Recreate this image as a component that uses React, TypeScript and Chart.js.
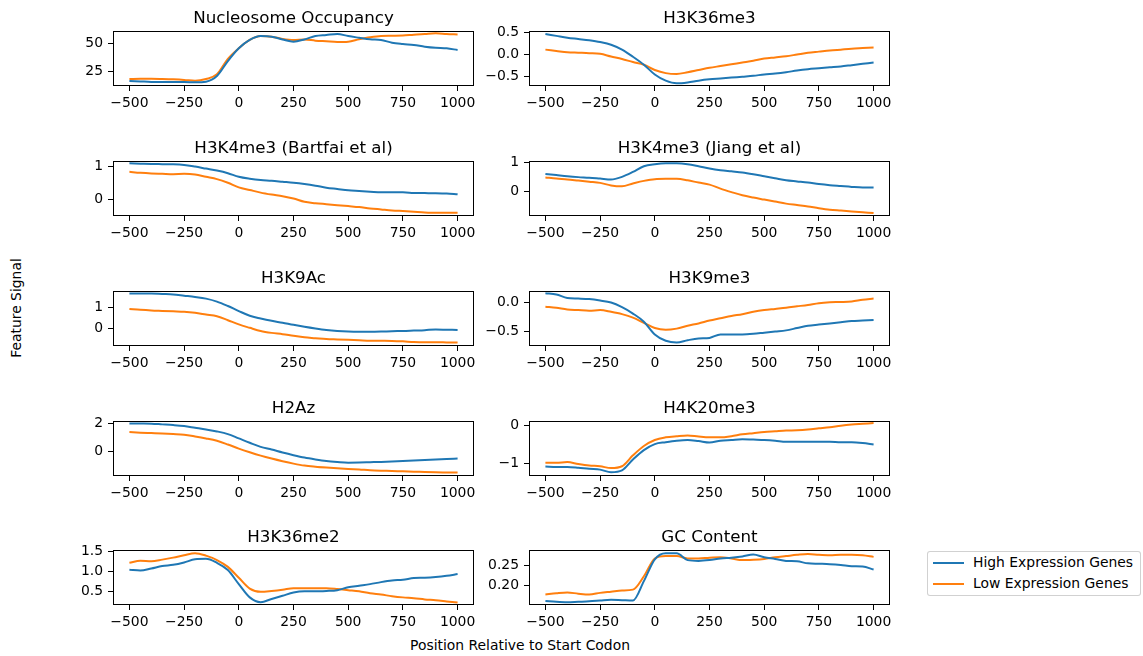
import React, { useEffect, useRef } from 'react';
import { Chart, registerables } from 'chart.js';

Chart.register(...registerables);

// ---------- data ----------
const POSITIONS = [-500, -450, -400, -350, -300, -250, -200, -150, -100, -50, 0, 50, 100, 150, 200, 250, 300, 350, 400, 450, 500, 550, 600, 650, 700, 750, 800, 850, 900, 950, 1000];
const X_TICKS = [-500, -250, 0, 250, 500, 750, 1000];
const SERIES_NAMES = ['High Expression Genes', 'Low Expression Genes'];

const NUC_HIGH = [16, 15.6, 15.2, 15, 15, 15, 14.8, 15.4, 20.5, 34, 45.5, 53, 56.5, 56, 53.5, 51.5, 53.5, 56.5, 57.5, 58.5, 56.5, 55, 53.6, 53, 50.6, 49.4, 48.5, 47, 46, 45.5, 44];
const NUC_LOW = [17.8, 18, 18, 17.8, 17.5, 17, 16.2, 17.8, 22, 36, 45.5, 53, 56.5, 56, 54, 53, 53.5, 52.4, 51.8, 51.2, 51.5, 53.6, 55.4, 56.6, 56.8, 57, 57.8, 58.4, 59, 58.4, 58];

const K36ME3_HIGH = [0.46, 0.42, 0.38, 0.35, 0.32, 0.28, 0.22, 0.11, -0.05, -0.23, -0.45, -0.59, -0.65, -0.63, -0.59, -0.56, -0.54, -0.52, -0.5, -0.48, -0.45, -0.43, -0.4, -0.36, -0.33, -0.31, -0.29, -0.27, -0.24, -0.21, -0.18];
const K36ME3_LOW = [0.11, 0.08, 0.05, 0.04, 0.03, 0.015, -0.045, -0.1, -0.17, -0.23, -0.35, -0.42, -0.44, -0.4, -0.35, -0.3, -0.26, -0.22, -0.18, -0.14, -0.09, -0.065, -0.04, 0, 0.04, 0.065, 0.09, 0.11, 0.13, 0.145, 0.16];

const K4ME3B_HIGH = [1.1, 1.09, 1.08, 1.075, 1.07, 1.05, 1.0, 0.94, 0.88, 0.8, 0.69, 0.63, 0.59, 0.57, 0.54, 0.51, 0.47, 0.42, 0.36, 0.32, 0.28, 0.26, 0.24, 0.22, 0.22, 0.22, 0.2, 0.195, 0.19, 0.18, 0.16];
const K4ME3B_LOW = [0.84, 0.81, 0.79, 0.78, 0.77, 0.78, 0.76, 0.69, 0.62, 0.51, 0.37, 0.29, 0.21, 0.15, 0.1, 0.03, -0.07, -0.11, -0.14, -0.17, -0.2, -0.23, -0.27, -0.3, -0.33, -0.35, -0.37, -0.39, -0.4, -0.4, -0.4];

const K4ME3J_HIGH = [0.6, 0.56, 0.52, 0.49, 0.47, 0.44, 0.41, 0.5, 0.67, 0.87, 0.94, 0.97, 0.97, 0.94, 0.87, 0.79, 0.73, 0.69, 0.65, 0.59, 0.52, 0.45, 0.38, 0.34, 0.3, 0.25, 0.21, 0.18, 0.15, 0.13, 0.13];
const K4ME3J_LOW = [0.48, 0.44, 0.41, 0.37, 0.33, 0.29, 0.2, 0.17, 0.27, 0.36, 0.42, 0.43, 0.43, 0.38, 0.3, 0.23, 0.09, -0.03, -0.14, -0.22, -0.29, -0.36, -0.43, -0.48, -0.53, -0.59, -0.64, -0.67, -0.7, -0.73, -0.76];

const K9AC_HIGH = [1.67, 1.67, 1.67, 1.65, 1.63, 1.57, 1.51, 1.43, 1.29, 1.08, 0.84, 0.62, 0.49, 0.38, 0.29, 0.19, 0.1, 0.02, -0.05, -0.1, -0.13, -0.14, -0.14, -0.13, -0.11, -0.1, -0.08, -0.06, -0.03, -0.04, -0.05];
const K9AC_LOW = [0.94, 0.9, 0.87, 0.85, 0.83, 0.81, 0.76, 0.68, 0.6, 0.41, 0.21, 0.05, -0.1, -0.19, -0.25, -0.33, -0.4, -0.44, -0.48, -0.5, -0.52, -0.54, -0.56, -0.565, -0.57, -0.59, -0.62, -0.63, -0.63, -0.64, -0.65];

const K9ME3_HIGH = [0.16, 0.14, 0.08, 0.07, 0.06, 0.035, 0, -0.08, -0.19, -0.33, -0.55, -0.66, -0.69, -0.65, -0.62, -0.61, -0.55, -0.55, -0.55, -0.54, -0.52, -0.5, -0.48, -0.44, -0.4, -0.38, -0.36, -0.34, -0.32, -0.31, -0.3];
const K9ME3_LOW = [-0.07, -0.09, -0.12, -0.13, -0.14, -0.13, -0.16, -0.2, -0.26, -0.35, -0.44, -0.47, -0.45, -0.4, -0.36, -0.31, -0.27, -0.23, -0.2, -0.16, -0.13, -0.11, -0.09, -0.065, -0.04, -0.01, 0.005, 0.01, 0.02, 0.05, 0.07];

const H2AZ_HIGH = [2.0, 1.99, 1.98, 1.93, 1.88, 1.81, 1.69, 1.57, 1.43, 1.24, 0.93, 0.62, 0.33, 0.14, -0.07, -0.26, -0.43, -0.56, -0.67, -0.74, -0.79, -0.78, -0.76, -0.74, -0.71, -0.67, -0.64, -0.6, -0.57, -0.53, -0.5];
const H2AZ_LOW = [1.38, 1.34, 1.31, 1.28, 1.24, 1.19, 1.07, 0.93, 0.76, 0.5, 0.21, -0.05, -0.29, -0.5, -0.69, -0.86, -1.0, -1.08, -1.14, -1.19, -1.24, -1.28, -1.33, -1.36, -1.38, -1.41, -1.43, -1.46, -1.48, -1.49, -1.5];

const K20ME3_HIGH = [-1.09, -1.1, -1.1, -1.12, -1.15, -1.17, -1.24, -1.19, -0.9, -0.65, -0.49, -0.44, -0.4, -0.38, -0.41, -0.45, -0.4, -0.38, -0.36, -0.37, -0.38, -0.4, -0.43, -0.43, -0.43, -0.43, -0.43, -0.44, -0.44, -0.46, -0.5];
const K20ME3_LOW = [-0.99, -0.99, -0.97, -1.02, -1.06, -1.08, -1.13, -1.08, -0.79, -0.54, -0.38, -0.31, -0.28, -0.26, -0.29, -0.31, -0.31, -0.28, -0.23, -0.2, -0.17, -0.15, -0.13, -0.12, -0.1, -0.07, -0.04, 0, 0.03, 0.05, 0.07];

const K36ME2_HIGH = [1.05, 1.03, 1.08, 1.14, 1.17, 1.23, 1.31, 1.32, 1.22, 1.04, 0.69, 0.36, 0.24, 0.32, 0.4, 0.48, 0.51, 0.51, 0.52, 0.54, 0.61, 0.65, 0.69, 0.74, 0.78, 0.8, 0.84, 0.85, 0.87, 0.9, 0.94];
const K36ME2_LOW = [1.22, 1.27, 1.26, 1.3, 1.35, 1.41, 1.46, 1.4, 1.29, 1.12, 0.85, 0.58, 0.5, 0.52, 0.55, 0.59, 0.59, 0.59, 0.59, 0.57, 0.54, 0.51, 0.46, 0.43, 0.39, 0.36, 0.34, 0.31, 0.29, 0.26, 0.23];

const GC_HIGH = [0.162, 0.16, 0.159, 0.16, 0.161, 0.163, 0.165, 0.164, 0.163, 0.211, 0.265, 0.28, 0.28, 0.263, 0.261, 0.263, 0.267, 0.269, 0.272, 0.277, 0.27, 0.266, 0.261, 0.26, 0.255, 0.254, 0.253, 0.251, 0.248, 0.247, 0.24];
const GC_LOW = [0.178, 0.181, 0.183, 0.18, 0.178, 0.182, 0.185, 0.188, 0.19, 0.223, 0.267, 0.273, 0.273, 0.267, 0.267, 0.269, 0.27, 0.267, 0.263, 0.264, 0.266, 0.27, 0.273, 0.276, 0.278, 0.276, 0.275, 0.276, 0.276, 0.275, 0.271];

const PANEL_TITLES = ['Nucleosome Occupancy', 'H3K36me3', 'H3K4me3 (Bartfai et al)', 'H3K4me3 (Jiang et al)', 'H3K9Ac', 'H3K9me3', 'H2Az', 'H4K20me3', 'H3K36me2', 'GC Content'];
const PANEL_HIGH = [NUC_HIGH, K36ME3_HIGH, K4ME3B_HIGH, K4ME3J_HIGH, K9AC_HIGH, K9ME3_HIGH, H2AZ_HIGH, K20ME3_HIGH, K36ME2_HIGH, GC_HIGH];
const PANEL_LOW = [NUC_LOW, K36ME3_LOW, K4ME3B_LOW, K4ME3J_LOW, K9AC_LOW, K9ME3_LOW, H2AZ_LOW, K20ME3_LOW, K36ME2_LOW, GC_LOW];
const PANEL_Y_TICKS = [[25, 50], [-0.5, 0, 0.5], [0, 1], [0, 1], [0, 1], [-0.5, 0], [0, 2], [-1, 0], [0.5, 1.0, 1.5], [0.2, 0.25]];
const PANEL_Y_DECIMALS = [0, 1, 0, 0, 0, 1, 0, 0, 1, 2];
const PANEL_Y_RANGE = [[11.5, 61.1], [-0.71, 0.53], [-0.5, 1.17], [-0.86, 1.05], [-0.81, 1.79], [-0.75, 0.2], [-1.74, 2.17], [-1.34, 0.125], [0.17, 1.54], [0.152, 0.288]];

// ---------- layout / style ----------
const COLORS = ['#1f77b4', '#ff7f0e'];
const FONT = '"DejaVu Sans", "Liberation Sans", sans-serif';
const COL_LEFT = [113, 529];
const ROW_TOP = [31, 161, 291, 421, 550];
const BOX_W = 361;
const BOX_H = 55;
const PAD_L = 60;
const PAD_T = 31;
const PAD_R = 12;
const PAD_B = 30;

const fmt = (v: number, d: number) => {
  const s = (Math.abs(v) < 1e-12 ? 0 : v).toFixed(d);
  return s.replace('-', '\u2212');
};

const framePlugin = {
  id: 'frameTitle',
  afterDraw(chart: any, _args: any, opts: any) {
    const { ctx, chartArea: a } = chart;
    ctx.save();
    ctx.strokeStyle = '#000';
    ctx.lineWidth = 1;
    const l = Math.round(a.left) + 0.5;
    const t = Math.round(a.top) + 0.5;
    const r = Math.round(a.right) - 0.5;
    const b = Math.round(a.bottom) - 0.5;
    ctx.strokeRect(l, t, r - l, b - t);
    ctx.fillStyle = '#000';
    ctx.font = `16.7px ${FONT}`;
    ctx.textAlign = 'center';
    ctx.textBaseline = 'alphabetic';
    ctx.fillText(opts.text || '', (a.left + a.right) / 2, a.top - 8);
    ctx.restore();
  },
};

function Panel({ index }: { index: number }) {
  const ref = useRef<HTMLCanvasElement | null>(null);
  const col = index % 2;
  const row = Math.floor(index / 2);
  const width = PAD_L + BOX_W + PAD_R;
  const height = PAD_T + BOX_H + PAD_B;

  useEffect(() => {
    if (!ref.current) return;
    const decimals = PANEL_Y_DECIMALS[index];
    const yTicks = PANEL_Y_TICKS[index];
    const [yMin, yMax] = PANEL_Y_RANGE[index];
    const mk = (vals: number[]) => POSITIONS.map((x, i) => ({ x, y: vals[i] }));
    const tickFont = { family: FONT, size: 13.9 };
    const chart = new Chart(ref.current, {
      type: 'line',
      data: {
        datasets: [
          { label: SERIES_NAMES[0], data: mk(PANEL_HIGH[index]), borderColor: COLORS[0], backgroundColor: COLORS[0], borderWidth: 2, pointRadius: 0, cubicInterpolationMode: 'monotone', fill: false },
          { label: SERIES_NAMES[1], data: mk(PANEL_LOW[index]), borderColor: COLORS[1], backgroundColor: COLORS[1], borderWidth: 2, pointRadius: 0, cubicInterpolationMode: 'monotone', fill: false },
        ],
      },
      options: {
        animation: false,
        responsive: false,
        devicePixelRatio: 1,
        layout: { padding: { left: 0, top: PAD_T, right: PAD_R, bottom: 0 } },
        plugins: {
          legend: { display: false },
          tooltip: { enabled: false },
          title: { display: false },
          frameTitle: { text: PANEL_TITLES[index] },
        } as any,
        scales: {
          x: {
            type: 'linear',
            min: -575,
            max: 1075,
            afterBuildTicks: (s: any) => { s.ticks = X_TICKS.map((v) => ({ value: v })); },
            afterFit: (s: any) => { s.height = PAD_B; },
            ticks: { color: '#000', font: tickFont, padding: 4, maxRotation: 0, autoSkip: false, callback: (v: any) => fmt(Number(v), 0) },
            grid: { drawOnChartArea: false, drawTicks: true, tickLength: 5, color: '#000', lineWidth: 1 },
            border: { display: false },
          },
          y: {
            type: 'linear',
            min: yMin,
            max: yMax,
            afterBuildTicks: (s: any) => { s.ticks = yTicks.map((v) => ({ value: v })); },
            afterFit: (s: any) => { s.width = PAD_L; },
            ticks: { color: '#000', font: tickFont, padding: 5, autoSkip: false, callback: (v: any) => fmt(Number(v), decimals) },
            grid: { drawOnChartArea: false, drawTicks: true, tickLength: 5, color: '#000', lineWidth: 1 },
            border: { display: false },
          },
        },
      } as any,
      plugins: [framePlugin],
    });
    return () => chart.destroy();
  }, [index]);

  return (
    <canvas
      ref={ref}
      width={width}
      height={height}
      style={{ position: 'absolute', left: COL_LEFT[col] - PAD_L, top: ROW_TOP[row] - PAD_T, width, height }}
    />
  );
}

export default function App() {
  const textStyle: React.CSSProperties = { position: 'absolute', fontFamily: FONT, fontSize: '13.9px', color: '#000', whiteSpace: 'nowrap', lineHeight: 1 };
  return (
    <div style={{ position: 'fixed', left: 0, top: 0, width: 1143, height: 656, background: '#fff', overflow: 'hidden' }}>
      {PANEL_TITLES.map((_, i) => (
        <Panel key={i} index={i} />
      ))}
      <div style={{ ...textStyle, left: 520, top: 646, transform: 'translate(-50%, -50%)' }}>Position Relative to Start Codon</div>
      <div style={{ ...textStyle, left: 17, top: 308, transform: 'translate(-50%, -50%) rotate(-90deg)' }}>Feature Signal</div>
      <div style={{ position: 'absolute', left: 927, top: 551, width: 214, height: 45, border: '1px solid rgba(204,204,204,0.9)', borderRadius: 3, boxSizing: 'border-box', background: 'rgba(255,255,255,0.8)' }}>
        {SERIES_NAMES.map((name, i) => (
          <div key={name} style={{ position: 'absolute', left: 0, top: 3 + i * 21, height: 16, width: 212 }}>
            <div style={{ position: 'absolute', left: 5, top: 7, width: 31, height: 2, background: COLORS[i] }} />
            <div style={{ ...textStyle, left: 45, top: 1 }}>{name}</div>
          </div>
        ))}
      </div>
    </div>
  );
}
